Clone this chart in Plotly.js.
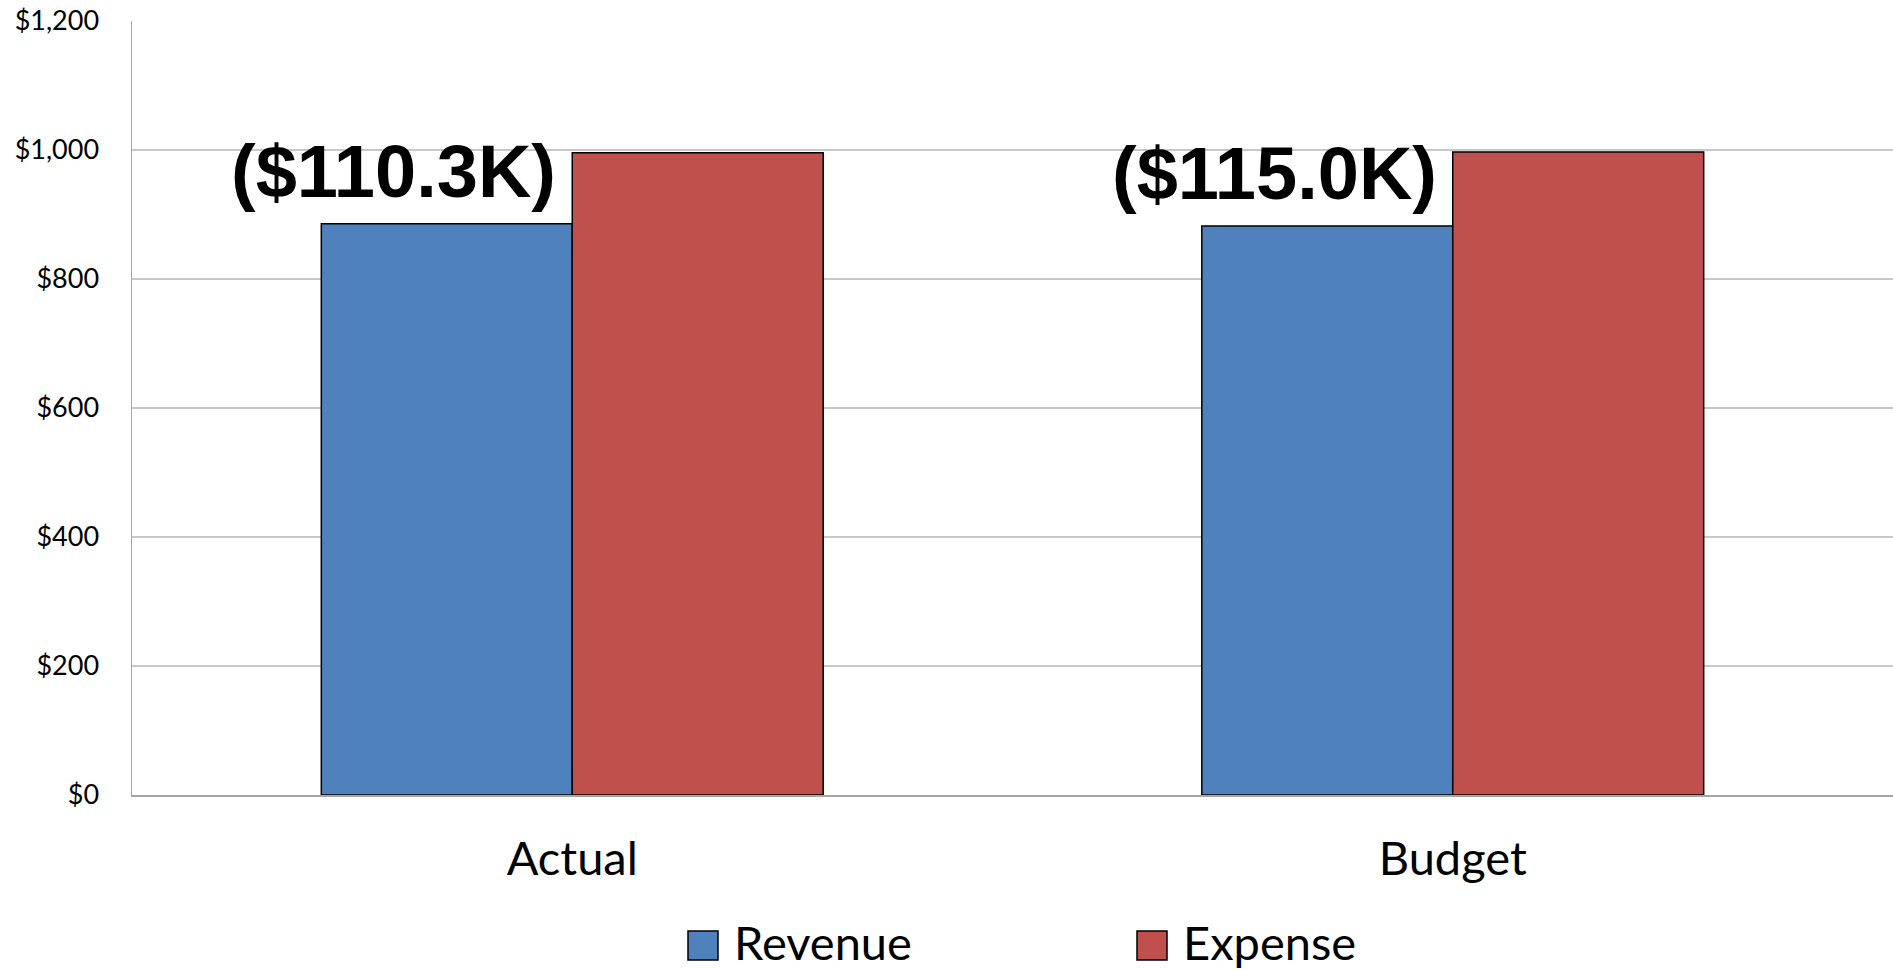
<!DOCTYPE html>
<html>
<head>
<meta charset="utf-8">
<script src="https://cdn.plot.ly/plotly-3.0.1.min.js"></script>
<style>html,body{margin:0;padding:0;background:#fff;}#chart{width:1893px;height:971px;}</style>
</head>
<body>
<div id="chart"></div>
<script>
// ---- data ----
const categories = ["Actual", "Budget"];
const seriesNames = ["Revenue", "Expense"];
const revenue = [885.5, 882.0];
const expense = [995.8, 997.0];
const yTicks = [0, 200, 400, 600, 800, 1000, 1200];

// ---- styling / layout ----
const colors = ["#4F81BD", "#C0504D"];
const W = 1893, H = 971;
const M = {l: 132, r: 0, t: 21, b: 176};
const baseFont = "Lato, 'Open Sans', sans-serif";

const traces = [revenue, expense].map((vals, i) => ({
  type: "bar",
  name: seriesNames[i],
  x: categories,
  y: vals,
  marker: {color: colors[i], line: {color: "#000", width: 1.5}},
  showlegend: false,
  hoverinfo: "x+y+name"
}));

function fmtDiff(d) {
  const k = Math.abs(d).toFixed(1) + "K";
  return d < 0 ? "($" + k + ")" : "$" + k;
}

const annotations = categories.map((c, i) => ({
  x: c,
  y: revenue[i],
  xref: "x", yref: "y",
  text: fmtDiff(revenue[i] - expense[i]),
  showarrow: false,
  xanchor: "right",
  yanchor: "bottom",
  xshift: -14,
  yshift: 9,
  font: {family: "'Liberation Sans', Arial, sans-serif", size: 74, color: "#000", weight: "bold"}
}));

// custom legend (paper coords from pixels)
const pw = W - M.l - M.r, ph = H - M.t - M.b;
const px = v => (v - M.l) / pw;
const py = v => (H - M.b - v) / ph;
const legendX = [688, 1137];
const shapes = [];
seriesNames.forEach((n, i) => {
  shapes.push({
    type: "rect", xref: "paper", yref: "paper",
    x0: px(legendX[i]), x1: px(legendX[i] + 30),
    y0: py(960), y1: py(931),
    fillcolor: colors[i], line: {color: "#000", width: 1.5}
  });
  annotations.push({
    xref: "paper", yref: "paper",
    x: px(legendX[i] + 44), y: py(942),
    xanchor: "left", yanchor: "middle",
    text: n, showarrow: false,
    font: {family: baseFont, size: 47, color: "#000"}
  });
});

const layout = {
  width: W, height: H,
  margin: M,
  paper_bgcolor: "#fff",
  plot_bgcolor: "#fff",
  barmode: "group",
  bargap: 0.43,
  bargroupgap: 0,
  showlegend: false,
  font: {family: baseFont, color: "#000"},
  xaxis: {
    type: "category",
    range: [-0.5, 1.5],
    showgrid: false,
    showline: true, linecolor: "#a6a6a6", linewidth: 1.5,
    ticks: "",
    ticklabelstandoff: 22,
    tickfont: {family: baseFont, size: 47, color: "#000"},
    zeroline: false,
    fixedrange: true
  },
  yaxis: {
    range: [0, 1200],
    tickvals: yTicks,
    ticktext: yTicks.map(v => "$" + v.toLocaleString("en-US")),
    showgrid: true, gridcolor: "#c8c8c8", gridwidth: 1.2,
    showline: true, linecolor: "#a6a6a6", linewidth: 1.5,
    ticks: "",
    ticklabelstandoff: 26,
    tickfont: {family: baseFont, size: 27, color: "#000"},
    zeroline: false,
    fixedrange: true
  },
  annotations: annotations,
  shapes: shapes
};

Plotly.newPlot("chart", traces, layout, {displayModeBar: false, staticPlot: true});
</script>
</body>
</html>
